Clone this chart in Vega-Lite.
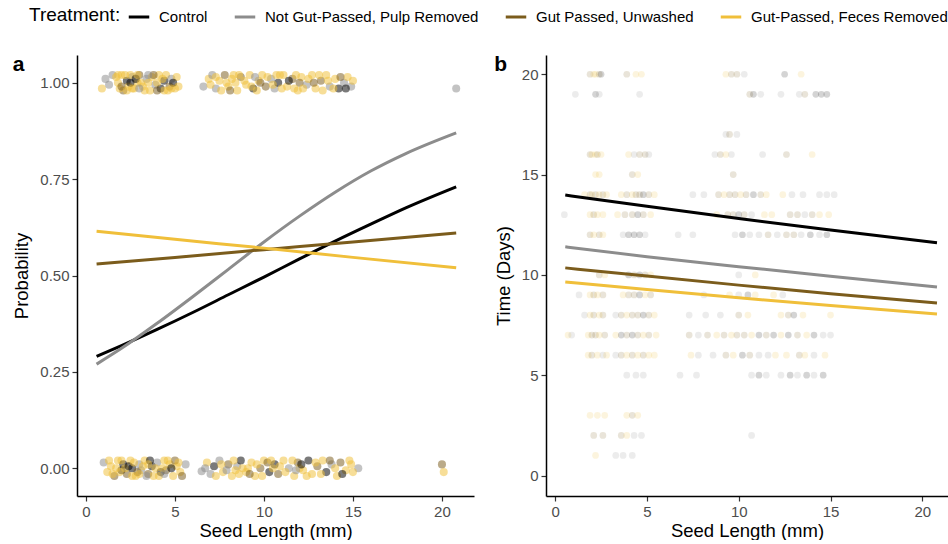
{
  "$schema": "https://vega.github.io/schema/vega-lite/v6.json",
  "padding": {"left": 12, "top": 5, "right": 0, "bottom": 0},
  "config": {
    "font": "Liberation Sans",
    "view": {"stroke": null},
    "axis": {"domainColor": "#000", "domainWidth": 1.5, "tickColor": "#333", "tickSize": 5, "tickWidth": 1.2, "labelColor": "#4d4d4d", "labelFontSize": 15, "titleFontSize": 18.5, "titleColor": "#000", "titleFontWeight": "normal", "grid": false, "labelPadding": 3, "titlePadding": 8},
    "axisX": {"titlePadding": 2},
    "legend": {"orient": "none", "legendX": -48, "legendY": -50, "direction": "horizontal", "titleOrient": "left", "titleFontSize": 19, "titleFontWeight": "normal", "titleColor": "#000", "labelFontSize": 15, "labelColor": "#000", "labelLimit": 0, "symbolType": "stroke", "symbolStrokeWidth": 3, "symbolSize": 420, "symbolOpacity": 1, "columnPadding": 20, "labelOffset": 8, "titlePadding": 6},
    "title": {"anchor": "start", "frame": "bounds", "fontSize": 21, "fontWeight": "bold", "baseline": "top", "offset": 0, "dy": 24, "color": "#000"}
  },
  "datasets": {
    "pa": [
      {"x":0.9,"y":0.985,"t":"F"},{"x":1.1,"y":1.01,"t":"N"},{"x":1.3,"y":0.995,"t":"N"},{"x":1.5,"y":1.02,"t":"N"},
      {"x":1.8,"y":1.0,"t":"F"},{"x":2.0,"y":1.02,"t":"F"},{"x":2.1,"y":0.98,"t":"U"},{"x":2.3,"y":1.005,"t":"C"},{"x":2.4,"y":0.99,"t":"F"},{"x":2.6,"y":1.015,"t":"N"},{"x":2.7,"y":0.985,"t":"F"},{"x":2.9,"y":1.0,"t":"F"},{"x":3.0,"y":1.02,"t":"U"},{"x":3.2,"y":0.99,"t":"F"},{"x":3.4,"y":1.01,"t":"N"},{"x":3.6,"y":0.98,"t":"F"},{"x":3.7,"y":1.015,"t":"F"},{"x":3.9,"y":0.995,"t":"N"},{"x":4.1,"y":1.02,"t":"F"},{"x":4.2,"y":0.985,"t":"C"},{"x":4.4,"y":1.005,"t":"C"},{"x":4.5,"y":1.02,"t":"F"},{"x":4.7,"y":0.99,"t":"U"},{"x":4.8,"y":1.01,"t":"N"},{"x":5.0,"y":0.985,"t":"F"},{"x":5.1,"y":1.015,"t":"F"},{"x":1.9,"y":0.985,"t":"F"},{"x":2.5,"y":1.0,"t":"C"},{"x":3.3,"y":0.98,"t":"F"},{"x":4.0,"y":1.0,"t":"F"},{"x":2.2,"y":1.02,"t":"F"},{"x":3.8,"y":1.02,"t":"U"},{"x":4.6,"y":0.98,"t":"F"},
      {"x":1.7,"y":1.015,"t":"F"},{"x":2.0,"y":0.99,"t":"U"},{"x":2.3,"y":0.98,"t":"F"},{"x":2.5,"y":1.02,"t":"F"},{"x":2.8,"y":1.01,"t":"C"},{"x":3.1,"y":1.0,"t":"F"},{"x":3.5,"y":1.0,"t":"F"},{"x":3.5,"y":1.02,"t":"N"},{"x":4.3,"y":1.01,"t":"F"},{"x":4.9,"y":1.0,"t":"C"},{"x":5.2,"y":0.99,"t":"F"},{"x":2.6,"y":0.985,"t":"F"},{"x":3.0,"y":0.985,"t":"N"},{"x":4.4,"y":0.98,"t":"F"},{"x":1.8,"y":1.02,"t":"F"},{"x":2.9,"y":1.02,"t":"F"},{"x":4.0,"y":0.98,"t":"U"},{"x":4.8,"y":0.985,"t":"F"},
      {"x":6.6,"y":0.99,"t":"N"},{"x":6.9,"y":1.01,"t":"F"},{"x":7.1,"y":1.02,"t":"N"},{"x":7.3,"y":0.985,"t":"N"},{"x":7.5,"y":1.005,"t":"F"},{"x":7.8,"y":1.02,"t":"U"},{"x":8.0,"y":0.99,"t":"F"},{"x":8.2,"y":1.01,"t":"F"},{"x":8.5,"y":0.98,"t":"F"},{"x":8.7,"y":1.015,"t":"U"},{"x":9.0,"y":0.995,"t":"F"},{"x":9.2,"y":1.02,"t":"F"},{"x":9.4,"y":0.985,"t":"C"},{"x":9.7,"y":1.005,"t":"F"},{"x":9.9,"y":1.02,"t":"F"},{"x":10.1,"y":0.99,"t":"U"},{"x":10.4,"y":1.01,"t":"N"},{"x":10.6,"y":0.985,"t":"N"},{"x":10.8,"y":1.0,"t":"C"},{"x":11.1,"y":1.02,"t":"F"},{"x":11.3,"y":0.99,"t":"F"},{"x":11.6,"y":1.01,"t":"U"},{"x":11.9,"y":0.98,"t":"F"},{"x":12.1,"y":1.015,"t":"F"},{"x":12.4,"y":0.995,"t":"N"},{"x":12.7,"y":1.02,"t":"F"},{"x":12.9,"y":0.985,"t":"F"},{"x":13.2,"y":1.005,"t":"U"},{"x":13.5,"y":1.02,"t":"F"},{"x":13.7,"y":0.99,"t":"N"},{"x":14.0,"y":1.01,"t":"F"},{"x":14.2,"y":0.985,"t":"C"},{"x":14.5,"y":1.0,"t":"N"},{"x":14.7,"y":1.015,"t":"F"},{"x":14.9,"y":0.99,"t":"N"},{"x":15.0,"y":1.005,"t":"F"},
      {"x":8.4,"y":1.0,"t":"F"},{"x":9.6,"y":0.98,"t":"F"},{"x":10.9,"y":1.02,"t":"F"},{"x":12.0,"y":1.0,"t":"U"},{"x":13.3,"y":0.98,"t":"F"},{"x":7.6,"y":0.98,"t":"F"},
      {"x":7.0,"y":0.995,"t":"F"},{"x":7.3,"y":1.015,"t":"F"},{"x":7.9,"y":1.0,"t":"F"},{"x":8.1,"y":0.98,"t":"U"},{"x":8.6,"y":1.02,"t":"F"},{"x":8.9,"y":1.005,"t":"F"},{"x":9.3,"y":0.99,"t":"F"},{"x":9.8,"y":1.0,"t":"U"},{"x":10.2,"y":1.015,"t":"F"},{"x":10.5,"y":0.995,"t":"F"},{"x":11.0,"y":0.985,"t":"F"},{"x":11.4,"y":1.005,"t":"C"},{"x":11.8,"y":1.02,"t":"F"},{"x":12.2,"y":0.985,"t":"F"},{"x":12.5,"y":1.01,"t":"F"},{"x":12.8,"y":1.0,"t":"U"},{"x":13.1,"y":1.02,"t":"F"},{"x":13.6,"y":1.005,"t":"F"},{"x":13.9,"y":0.985,"t":"F"},{"x":14.3,"y":1.015,"t":"U"},{"x":14.6,"y":0.985,"t":"C"},{"x":8.3,"y":1.02,"t":"F"},{"x":9.5,"y":1.015,"t":"N"},{"x":10.7,"y":1.02,"t":"F"},{"x":11.7,"y":0.985,"t":"F"},
      {"x":20.8,"y":0.985,"t":"N"},
      {"x":1.0,"y":0.015,"t":"N"},{"x":1.2,"y":-0.01,"t":"F"},{"x":1.4,"y":0.005,"t":"F"},{"x":1.6,"y":-0.02,"t":"U"},{"x":1.8,"y":0.02,"t":"F"},{"x":2.0,"y":-0.005,"t":"C"},{"x":2.1,"y":0.01,"t":"C"},{"x":2.3,"y":-0.015,"t":"U"},{"x":2.5,"y":0.02,"t":"F"},{"x":2.6,"y":0.0,"t":"C"},{"x":2.8,"y":-0.02,"t":"F"},{"x":3.0,"y":0.01,"t":"N"},{"x":3.1,"y":-0.005,"t":"N"},{"x":3.3,"y":0.02,"t":"F"},{"x":3.5,"y":-0.015,"t":"U"},{"x":3.7,"y":0.005,"t":"C"},{"x":3.8,"y":-0.02,"t":"F"},{"x":4.0,"y":0.015,"t":"N"},{"x":4.2,"y":-0.01,"t":"C"},{"x":4.4,"y":0.02,"t":"F"},{"x":4.5,"y":-0.005,"t":"U"},{"x":4.7,"y":0.01,"t":"F"},{"x":4.9,"y":-0.02,"t":"F"},{"x":5.1,"y":0.005,"t":"F"},{"x":5.3,"y":-0.01,"t":"F"},{"x":5.6,"y":0.01,"t":"N"},{"x":2.2,"y":0.0,"t":"F"},{"x":2.9,"y":-0.01,"t":"U"},{"x":3.6,"y":0.02,"t":"C"},{"x":4.3,"y":0.0,"t":"F"},{"x":1.7,"y":0.0,"t":"F"},{"x":5.0,"y":0.02,"t":"U"},
      {"x":1.3,"y":0.02,"t":"F"},{"x":1.5,"y":-0.015,"t":"F"},{"x":1.9,"y":-0.01,"t":"F"},{"x":2.4,"y":0.005,"t":"C"},{"x":2.7,"y":0.015,"t":"F"},{"x":3.2,"y":0.005,"t":"F"},{"x":3.4,"y":-0.02,"t":"N"},{"x":3.9,"y":0.0,"t":"F"},{"x":4.1,"y":-0.02,"t":"F"},{"x":4.6,"y":0.02,"t":"F"},{"x":4.8,"y":0.0,"t":"C"},{"x":5.2,"y":0.015,"t":"F"},{"x":5.4,"y":-0.02,"t":"U"},{"x":2.0,"y":0.02,"t":"F"},{"x":3.0,"y":-0.015,"t":"F"},{"x":4.4,"y":-0.015,"t":"N"},{"x":2.6,"y":-0.02,"t":"F"},{"x":3.5,"y":0.01,"t":"F"},
      {"x":6.5,"y":-0.008,"t":"N"},{"x":6.8,"y":0.015,"t":"F"},{"x":7.0,"y":-0.015,"t":"N"},{"x":7.2,"y":0.005,"t":"C"},{"x":7.5,"y":0.02,"t":"N"},{"x":7.7,"y":-0.01,"t":"F"},{"x":8.0,"y":0.01,"t":"U"},{"x":8.2,"y":-0.02,"t":"F"},{"x":8.5,"y":0.005,"t":"N"},{"x":8.7,"y":0.02,"t":"C"},{"x":9.0,"y":-0.01,"t":"F"},{"x":9.3,"y":0.015,"t":"F"},{"x":9.5,"y":-0.02,"t":"F"},{"x":9.8,"y":0.0,"t":"U"},{"x":10.0,"y":0.02,"t":"F"},{"x":10.3,"y":-0.01,"t":"C"},{"x":10.6,"y":0.01,"t":"C"},{"x":10.8,"y":-0.015,"t":"U"},{"x":11.1,"y":0.02,"t":"F"},{"x":11.4,"y":0.0,"t":"N"},{"x":11.7,"y":-0.02,"t":"F"},{"x":11.9,"y":0.015,"t":"U"},{"x":12.2,"y":-0.005,"t":"F"},{"x":12.5,"y":0.02,"t":"C"},{"x":12.7,"y":-0.015,"t":"F"},{"x":13.0,"y":0.005,"t":"U"},{"x":13.3,"y":0.02,"t":"F"},{"x":13.5,"y":-0.01,"t":"C"},{"x":13.8,"y":0.01,"t":"N"},{"x":14.1,"y":-0.02,"t":"F"},{"x":14.3,"y":0.015,"t":"U"},{"x":14.6,"y":-0.005,"t":"F"},{"x":14.9,"y":0.01,"t":"F"},{"x":15.3,"y":0.0,"t":"N"},
      {"x":9.1,"y":0.0,"t":"F"},{"x":10.5,"y":0.0,"t":"F"},{"x":12.0,"y":0.0,"t":"F"},{"x":8.4,"y":-0.005,"t":"F"},
      {"x":6.7,"y":0.0,"t":"N"},{"x":7.3,"y":-0.02,"t":"F"},{"x":7.6,"y":0.01,"t":"F"},{"x":7.9,"y":-0.005,"t":"N"},{"x":8.3,"y":0.02,"t":"F"},{"x":8.8,"y":0.0,"t":"F"},{"x":9.2,"y":-0.015,"t":"U"},{"x":9.6,"y":0.01,"t":"F"},{"x":9.9,"y":-0.02,"t":"F"},{"x":10.2,"y":0.015,"t":"U"},{"x":10.9,"y":0.005,"t":"F"},{"x":11.2,"y":-0.01,"t":"F"},{"x":11.6,"y":0.02,"t":"F"},{"x":12.1,"y":0.01,"t":"C"},{"x":12.4,"y":-0.02,"t":"F"},{"x":12.9,"y":0.015,"t":"F"},{"x":13.2,"y":-0.015,"t":"F"},{"x":13.7,"y":0.02,"t":"U"},{"x":14.0,"y":0.0,"t":"F"},{"x":14.4,"y":-0.015,"t":"C"},{"x":14.8,"y":0.02,"t":"F"},{"x":15.0,"y":-0.01,"t":"F"},{"x":8.6,"y":-0.015,"t":"F"},{"x":10.4,"y":0.02,"t":"F"},{"x":11.8,"y":-0.005,"t":"N"},
      {"x":20.0,"y":0.01,"t":"U"},{"x":20.1,"y":-0.01,"t":"F"}
    ],
    "la": [
      {"x":0.6,"y":0.290,"t":"C"},{"x":2,"y":0.318,"t":"C"},{"x":4,"y":0.360,"t":"C"},{"x":6,"y":0.404,"t":"C"},{"x":8,"y":0.450,"t":"C"},{"x":10,"y":0.496,"t":"C"},{"x":12,"y":0.543,"t":"C"},{"x":14,"y":0.589,"t":"C"},{"x":16,"y":0.633,"t":"C"},{"x":18,"y":0.676,"t":"C"},{"x":20.8,"y":0.730,"t":"C"},
      {"x":0.6,"y":0.270,"t":"N"},{"x":2,"y":0.311,"t":"N"},{"x":4,"y":0.376,"t":"N"},{"x":6,"y":0.445,"t":"N"},{"x":8,"y":0.516,"t":"N"},{"x":10,"y":0.587,"t":"N"},{"x":12,"y":0.654,"t":"N"},{"x":14,"y":0.716,"t":"N"},{"x":16,"y":0.771,"t":"N"},{"x":18,"y":0.817,"t":"N"},{"x":20.8,"y":0.870,"t":"N"},
      {"x":0.6,"y":0.530,"t":"U"},{"x":5,"y":0.547,"t":"U"},{"x":10,"y":0.567,"t":"U"},{"x":15,"y":0.587,"t":"U"},{"x":20.8,"y":0.610,"t":"U"},
      {"x":0.6,"y":0.615,"t":"F"},{"x":5,"y":0.594,"t":"F"},{"x":10,"y":0.571,"t":"F"},{"x":15,"y":0.547,"t":"F"},{"x":20.8,"y":0.520,"t":"F"}
    ],
    "pb": [
      {"x":1.9,"y":20,"t":"U"},{"x":2.1,"y":20,"t":"F"},{"x":2.2,"y":20,"t":"F"},{"x":2.4,"y":20,"t":"U"},{"x":2.5,"y":20,"t":"C"},{"x":3.9,"y":20,"t":"U"},{"x":4.4,"y":20,"t":"F"},{"x":4.7,"y":20,"t":"F"},{"x":9.3,"y":20,"t":"F"},{"x":9.6,"y":20,"t":"U"},{"x":9.9,"y":20,"t":"U"},{"x":10.3,"y":20,"t":"N"},{"x":12.5,"y":20,"t":"C"},{"x":13.4,"y":20,"t":"F"},
      {"x":1.1,"y":19,"t":"N"},{"x":2.2,"y":19,"t":"C"},{"x":2.4,"y":19,"t":"N"},{"x":4.6,"y":19,"t":"N"},{"x":10.6,"y":19,"t":"U"},{"x":10.8,"y":19,"t":"C"},{"x":11.2,"y":19,"t":"N"},{"x":12.3,"y":19,"t":"N"},{"x":13.3,"y":19,"t":"N"},{"x":13.6,"y":19,"t":"U"},{"x":14.2,"y":19,"t":"C"},{"x":14.5,"y":19,"t":"C"},{"x":14.8,"y":19,"t":"C"},
      {"x":9.3,"y":17,"t":"N"},{"x":9.5,"y":17,"t":"U"},{"x":9.9,"y":17,"t":"N"},
      {"x":1.9,"y":16,"t":"U"},{"x":2.0,"y":16,"t":"F"},{"x":2.2,"y":16,"t":"F"},{"x":2.3,"y":16,"t":"U"},{"x":2.5,"y":16,"t":"F"},{"x":4.0,"y":16,"t":"F"},{"x":4.3,"y":16,"t":"N"},{"x":4.6,"y":16,"t":"U"},{"x":4.9,"y":16,"t":"U"},{"x":5.1,"y":16,"t":"N"},{"x":8.7,"y":16,"t":"N"},{"x":9.0,"y":16,"t":"U"},{"x":9.3,"y":16,"t":"F"},{"x":9.6,"y":16,"t":"N"},{"x":11.3,"y":16,"t":"N"},{"x":12.6,"y":16,"t":"U"},{"x":14.0,"y":16,"t":"F"},
      {"x":2.2,"y":15,"t":"F"},{"x":2.4,"y":15,"t":"F"},{"x":4.2,"y":15,"t":"U"},{"x":4.5,"y":15,"t":"F"},{"x":9.7,"y":15,"t":"U"},
      {"x":1.6,"y":14,"t":"F"},{"x":1.9,"y":14,"t":"U"},{"x":2.0,"y":14,"t":"F"},{"x":2.2,"y":14,"t":"U"},{"x":2.4,"y":14,"t":"F"},{"x":2.6,"y":14,"t":"U"},{"x":2.8,"y":14,"t":"F"},{"x":3.6,"y":14,"t":"F"},{"x":3.9,"y":14,"t":"U"},{"x":4.2,"y":14,"t":"F"},{"x":4.4,"y":14,"t":"U"},{"x":4.6,"y":14,"t":"U"},{"x":4.8,"y":14,"t":"C"},{"x":5.1,"y":14,"t":"U"},{"x":5.4,"y":14,"t":"F"},{"x":7.5,"y":14,"t":"N"},{"x":8.1,"y":14,"t":"N"},{"x":8.9,"y":14,"t":"U"},{"x":9.2,"y":14,"t":"F"},{"x":9.5,"y":14,"t":"U"},{"x":9.8,"y":14,"t":"U"},{"x":10.1,"y":14,"t":"F"},{"x":10.4,"y":14,"t":"U"},{"x":10.8,"y":14,"t":"C"},{"x":11.2,"y":14,"t":"U"},{"x":11.5,"y":14,"t":"F"},{"x":12.4,"y":14,"t":"F"},{"x":12.9,"y":14,"t":"N"},{"x":13.5,"y":14,"t":"N"},{"x":14.4,"y":14,"t":"N"},{"x":14.8,"y":14,"t":"N"},{"x":15.2,"y":14,"t":"N"},
      {"x":0.5,"y":13,"t":"N"},{"x":1.9,"y":13,"t":"F"},{"x":2.1,"y":13,"t":"U"},{"x":2.3,"y":13,"t":"F"},{"x":2.6,"y":13,"t":"F"},{"x":3.4,"y":13,"t":"F"},{"x":3.8,"y":13,"t":"U"},{"x":4.2,"y":13,"t":"U"},{"x":4.5,"y":13,"t":"C"},{"x":4.8,"y":13,"t":"U"},{"x":5.2,"y":13,"t":"F"},{"x":8.8,"y":13,"t":"F"},{"x":9.4,"y":13,"t":"U"},{"x":9.7,"y":13,"t":"U"},{"x":10.0,"y":13,"t":"C"},{"x":10.3,"y":13,"t":"U"},{"x":10.7,"y":13,"t":"N"},{"x":11.4,"y":13,"t":"F"},{"x":11.8,"y":13,"t":"F"},{"x":12.8,"y":13,"t":"U"},{"x":13.2,"y":13,"t":"U"},{"x":13.6,"y":13,"t":"N"},{"x":14.0,"y":13,"t":"U"},{"x":14.4,"y":13,"t":"F"},{"x":14.9,"y":13,"t":"F"},
      {"x":1.9,"y":12,"t":"U"},{"x":2.1,"y":12,"t":"F"},{"x":2.4,"y":12,"t":"U"},{"x":2.6,"y":12,"t":"F"},{"x":3.7,"y":12,"t":"N"},{"x":4.0,"y":12,"t":"C"},{"x":4.3,"y":12,"t":"C"},{"x":4.6,"y":12,"t":"C"},{"x":4.9,"y":12,"t":"N"},{"x":6.7,"y":12,"t":"N"},{"x":7.5,"y":12,"t":"N"},{"x":9.8,"y":12,"t":"N"},{"x":10.2,"y":12,"t":"C"},{"x":10.6,"y":12,"t":"N"},{"x":11.1,"y":12,"t":"N"},{"x":11.6,"y":12,"t":"U"},{"x":12.1,"y":12,"t":"N"},{"x":12.6,"y":12,"t":"U"},{"x":13.0,"y":12,"t":"U"},{"x":13.4,"y":12,"t":"N"},{"x":13.9,"y":12,"t":"C"},{"x":14.4,"y":12,"t":"N"},{"x":14.8,"y":12,"t":"C"},
      {"x":2.4,"y":10,"t":"U"},{"x":2.7,"y":10,"t":"F"},{"x":4.0,"y":10,"t":"C"},{"x":4.3,"y":10,"t":"U"},{"x":4.6,"y":10,"t":"C"},{"x":4.9,"y":10,"t":"U"},{"x":5.2,"y":10,"t":"F"},{"x":10.0,"y":10,"t":"N"},{"x":10.9,"y":10,"t":"F"},
      {"x":1.3,"y":9,"t":"N"},{"x":1.9,"y":9,"t":"F"},{"x":2.1,"y":9,"t":"U"},{"x":2.3,"y":9,"t":"F"},{"x":2.6,"y":9,"t":"U"},{"x":3.7,"y":9,"t":"F"},{"x":4.0,"y":9,"t":"U"},{"x":4.3,"y":9,"t":"U"},{"x":4.6,"y":9,"t":"C"},{"x":4.9,"y":9,"t":"F"},{"x":5.2,"y":9,"t":"U"},{"x":8.1,"y":9,"t":"N"},{"x":9.5,"y":9,"t":"F"},{"x":10.0,"y":9,"t":"N"},{"x":10.5,"y":9,"t":"C"},{"x":10.9,"y":9,"t":"F"},{"x":11.9,"y":9,"t":"F"},{"x":12.4,"y":9,"t":"N"},
      {"x":1.6,"y":8,"t":"N"},{"x":1.9,"y":8,"t":"F"},{"x":2.1,"y":8,"t":"U"},{"x":2.4,"y":8,"t":"F"},{"x":2.6,"y":8,"t":"U"},{"x":3.3,"y":8,"t":"N"},{"x":3.6,"y":8,"t":"U"},{"x":3.9,"y":8,"t":"F"},{"x":4.2,"y":8,"t":"U"},{"x":4.5,"y":8,"t":"U"},{"x":4.8,"y":8,"t":"C"},{"x":5.1,"y":8,"t":"U"},{"x":5.4,"y":8,"t":"F"},{"x":7.3,"y":8,"t":"N"},{"x":8.2,"y":8,"t":"N"},{"x":9.0,"y":8,"t":"N"},{"x":10.0,"y":8,"t":"U"},{"x":10.5,"y":8,"t":"F"},{"x":12.3,"y":8,"t":"F"},{"x":12.7,"y":8,"t":"U"},{"x":13.0,"y":8,"t":"C"},{"x":13.5,"y":8,"t":"F"},{"x":15.0,"y":8,"t":"F"},
      {"x":0.7,"y":7,"t":"F"},{"x":0.9,"y":7,"t":"N"},{"x":1.8,"y":7,"t":"F"},{"x":2.0,"y":7,"t":"U"},{"x":2.2,"y":7,"t":"U"},{"x":2.4,"y":7,"t":"F"},{"x":2.7,"y":7,"t":"U"},{"x":3.3,"y":7,"t":"F"},{"x":3.6,"y":7,"t":"C"},{"x":3.9,"y":7,"t":"U"},{"x":4.2,"y":7,"t":"C"},{"x":4.5,"y":7,"t":"U"},{"x":4.8,"y":7,"t":"F"},{"x":5.1,"y":7,"t":"U"},{"x":5.5,"y":7,"t":"F"},{"x":7.3,"y":7,"t":"U"},{"x":7.8,"y":7,"t":"N"},{"x":8.3,"y":7,"t":"U"},{"x":8.8,"y":7,"t":"F"},{"x":9.2,"y":7,"t":"U"},{"x":9.6,"y":7,"t":"F"},{"x":9.9,"y":7,"t":"U"},{"x":10.3,"y":7,"t":"U"},{"x":10.7,"y":7,"t":"F"},{"x":11.1,"y":7,"t":"C"},{"x":11.5,"y":7,"t":"U"},{"x":11.9,"y":7,"t":"C"},{"x":12.3,"y":7,"t":"F"},{"x":12.7,"y":7,"t":"C"},{"x":13.2,"y":7,"t":"U"},{"x":13.7,"y":7,"t":"F"},{"x":14.1,"y":7,"t":"C"},{"x":14.6,"y":7,"t":"N"},{"x":15.0,"y":7,"t":"N"},
      {"x":1.8,"y":6,"t":"F"},{"x":2.0,"y":6,"t":"U"},{"x":2.3,"y":6,"t":"F"},{"x":2.6,"y":6,"t":"N"},{"x":2.8,"y":6,"t":"F"},{"x":3.3,"y":6,"t":"N"},{"x":3.6,"y":6,"t":"U"},{"x":3.9,"y":6,"t":"F"},{"x":4.2,"y":6,"t":"U"},{"x":4.5,"y":6,"t":"F"},{"x":4.8,"y":6,"t":"U"},{"x":5.1,"y":6,"t":"F"},{"x":5.4,"y":6,"t":"F"},{"x":7.4,"y":6,"t":"F"},{"x":7.8,"y":6,"t":"N"},{"x":8.6,"y":6,"t":"N"},{"x":9.3,"y":6,"t":"U"},{"x":9.7,"y":6,"t":"F"},{"x":10.2,"y":6,"t":"C"},{"x":10.6,"y":6,"t":"U"},{"x":11.1,"y":6,"t":"N"},{"x":11.6,"y":6,"t":"N"},{"x":12.0,"y":6,"t":"F"},{"x":12.6,"y":6,"t":"F"},{"x":13.3,"y":6,"t":"U"},{"x":13.6,"y":6,"t":"F"},{"x":14.1,"y":6,"t":"N"},{"x":14.7,"y":6,"t":"F"},
      {"x":3.9,"y":5,"t":"N"},{"x":4.4,"y":5,"t":"N"},{"x":4.8,"y":5,"t":"N"},{"x":6.8,"y":5,"t":"N"},{"x":7.7,"y":5,"t":"N"},{"x":10.7,"y":5,"t":"N"},{"x":11.1,"y":5,"t":"C"},{"x":11.5,"y":5,"t":"N"},{"x":12.3,"y":5,"t":"N"},{"x":12.8,"y":5,"t":"C"},{"x":13.2,"y":5,"t":"N"},{"x":13.7,"y":5,"t":"C"},{"x":14.1,"y":5,"t":"N"},{"x":14.6,"y":5,"t":"C"},
      {"x":1.9,"y":3,"t":"F"},{"x":2.3,"y":3,"t":"F"},{"x":2.7,"y":3,"t":"F"},{"x":3.9,"y":3,"t":"F"},{"x":4.2,"y":3,"t":"U"},{"x":4.5,"y":3,"t":"F"},
      {"x":2.1,"y":2,"t":"U"},{"x":2.6,"y":2,"t":"U"},{"x":3.6,"y":2,"t":"U"},{"x":3.9,"y":2,"t":"F"},{"x":4.3,"y":2,"t":"N"},{"x":4.7,"y":2,"t":"N"},{"x":10.7,"y":2,"t":"N"},
      {"x":2.2,"y":1,"t":"F"},{"x":3.3,"y":1,"t":"N"},{"x":3.7,"y":1,"t":"N"},{"x":4.2,"y":1,"t":"N"}
    ],
    "lb": [
      {"x":0.55,"y":13.98,"t":"C"},{"x":5,"y":13.42,"t":"C"},{"x":10,"y":12.81,"t":"C"},{"x":15,"y":12.24,"t":"C"},{"x":20.8,"y":11.6,"t":"C"},
      {"x":0.55,"y":11.4,"t":"N"},{"x":5,"y":10.91,"t":"N"},{"x":10,"y":10.41,"t":"N"},{"x":15,"y":9.93,"t":"N"},{"x":20.8,"y":9.4,"t":"N"},
      {"x":0.55,"y":10.35,"t":"U"},{"x":5,"y":9.94,"t":"U"},{"x":10,"y":9.49,"t":"U"},{"x":15,"y":9.06,"t":"U"},{"x":20.8,"y":8.6,"t":"U"},
      {"x":0.55,"y":9.65,"t":"F"},{"x":5,"y":9.27,"t":"F"},{"x":10,"y":8.86,"t":"F"},{"x":15,"y":8.47,"t":"F"},{"x":20.8,"y":8.05,"t":"F"}
    ]
  },
  "spacing": 20,
  "resolve": {"scale": {"color": "shared"}},
  "hconcat": [
    {
      "width": 397, "height": 441,
      "title": {"text": "a"},
      "layer": [
        {
          "data": {"name": "pa"},
          "mark": {"type": "circle", "size": 65, "opacity": 0.52},
          "encoding": {
            "x": {"field": "x", "type": "quantitative", "scale": {"domain": [-0.5, 21.8], "nice": false, "zero": false}, "axis": {"values": [0, 5, 10, 15, 20], "title": "Seed Length (mm)"}},
            "y": {"field": "y", "type": "quantitative", "scale": {"domain": [-0.072, 1.072], "nice": false, "zero": false}, "axis": {"values": [0, 0.25, 0.5, 0.75, 1], "format": ".2f", "title": "Probability"}},
            "color": {"field": "t", "type": "nominal"}
          }
        },
        {
          "data": {"name": "la"},
          "mark": {"type": "line", "strokeWidth": 3, "interpolate": "monotone"},
          "encoding": {
            "x": {"field": "x", "type": "quantitative"},
            "y": {"field": "y", "type": "quantitative"},
            "color": {"field": "t", "type": "nominal", "title": "Treatment:",
              "scale": {"domain": ["C", "N", "U", "F"], "range": ["#000000", "#8c8c8c", "#7b5c1c", "#f0bf3a"]},
              "legend": {"labelExpr": "datum.label == 'C' ? 'Control' : datum.label == 'N' ? 'Not Gut-Passed, Pulp Removed' : datum.label == 'U' ? 'Gut Passed, Unwashed' : 'Gut-Passed, Feces Removed'"}}
          }
        }
      ]
    },
    {
      "width": 402, "height": 441,
      "title": {"text": "b"},
      "layer": [
        {
          "data": {"name": "pb"},
          "mark": {"type": "point", "filled": true, "size": 45, "opacity": 0.17, "strokeWidth": 1},
          "encoding": {
            "x": {"field": "x", "type": "quantitative", "scale": {"domain": [-0.5, 21.4], "nice": false, "zero": false}, "axis": {"values": [0, 5, 10, 15, 20], "title": "Seed Length (mm)"}},
            "y": {"field": "y", "type": "quantitative", "scale": {"domain": [-1.02, 20.96], "nice": false, "zero": false}, "axis": {"values": [0, 5, 10, 15, 20], "title": "Time (Days)"}},
            "color": {"field": "t", "type": "nominal"}
          }
        },
        {
          "data": {"name": "lb"},
          "mark": {"type": "line", "strokeWidth": 3, "interpolate": "monotone"},
          "encoding": {
            "x": {"field": "x", "type": "quantitative"},
            "y": {"field": "y", "type": "quantitative"},
            "color": {"field": "t", "type": "nominal"}
          }
        }
      ]
    }
  ]
}
